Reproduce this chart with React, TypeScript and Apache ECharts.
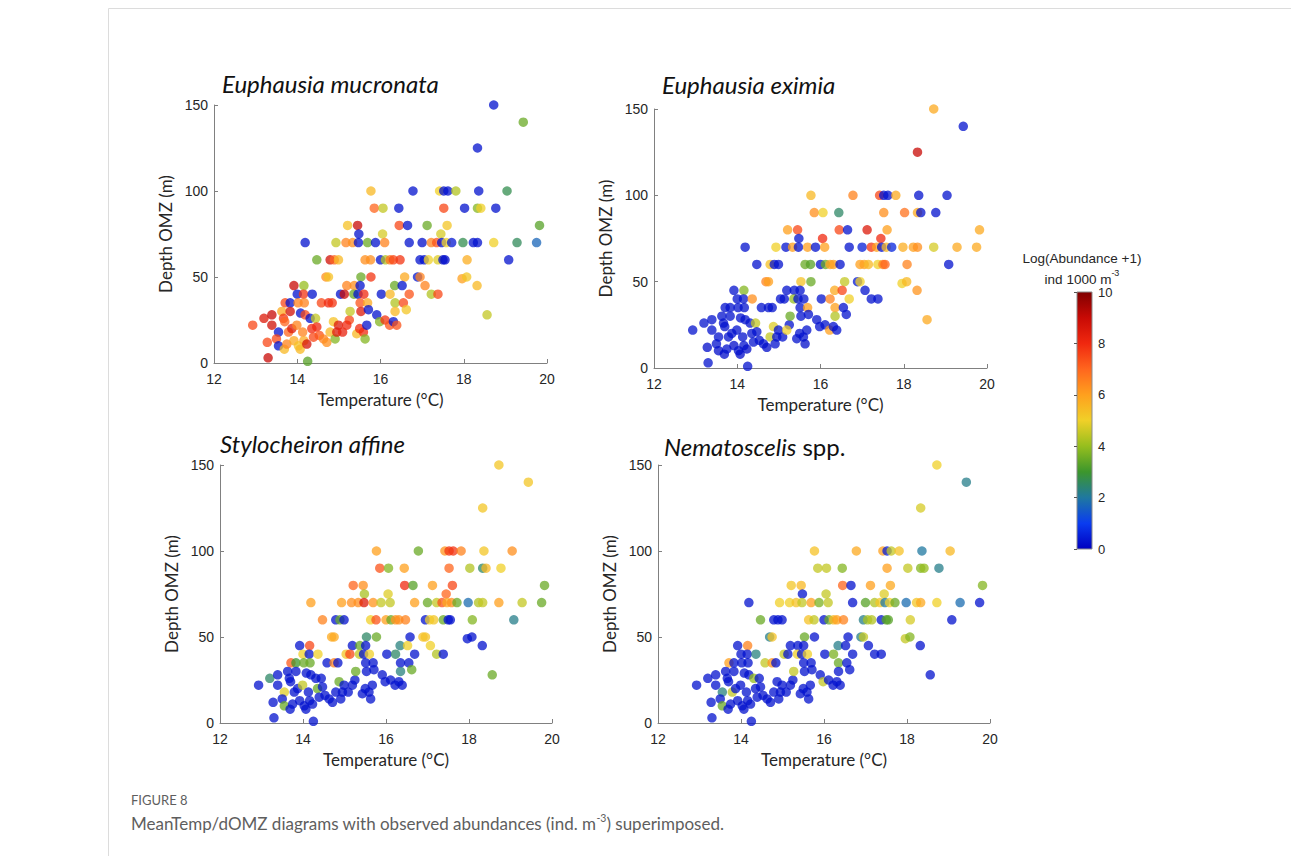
import React, { useEffect, useRef } from "react";
import * as echarts from "echarts";

// Station positions (shared by all four panels)
const stationTemp = [
  18.72, 19.43, 18.33,
  15.77, 16.78, 17.42, 17.52, 17.62, 17.81, 18.36, 19.04,
  15.85, 16.06, 16.44, 17.52, 18.02, 18.33, 18.41, 18.77,
  15.21, 15.45, 16.45, 16.65, 17.12, 17.6, 19.82,
  15.48, 16.05, 17.45,
  14.19, 14.93, 15.17, 15.33, 15.47, 15.69, 15.88, 16.1, 16.69, 17.0, 17.22, 17.35, 17.47, 17.58, 17.71, 17.98, 18.23, 18.33, 18.72, 19.28, 19.75,
  14.47, 14.79, 14.89, 14.99, 15.63, 15.76, 16.0, 16.12, 16.23, 16.31, 16.47, 16.95, 17.05, 17.15, 17.38, 17.5, 17.55, 18.08, 19.08,
  14.69, 14.75, 15.53, 15.77, 16.58, 16.89, 16.95, 17.96, 18.07,
  13.92, 14.16, 15.19, 15.37, 15.51, 16.34, 16.52, 17.07, 18.32,
  14.0, 14.15, 14.36, 15.04, 15.13, 15.36, 15.46, 15.6, 16.02, 16.23, 16.69, 17.22, 17.38,
  13.71, 13.83, 14.02, 14.17, 14.58, 14.75, 14.84, 15.51, 15.69, 16.35, 16.55,
  12.93, 13.2, 13.28, 13.3, 13.39, 13.39, 13.55, 13.5, 13.55, 13.63,
  13.67, 13.7, 13.69, 13.75, 13.83, 13.79, 13.87, 13.92, 13.99, 14.03,
  14.07, 14.08, 14.13, 14.16, 14.23, 14.19, 14.25, 14.31, 14.35, 14.39,
  14.44, 14.47, 14.53, 14.63, 14.71, 14.79, 14.87, 14.91, 14.95, 14.99,
  15.09, 15.25, 15.19, 15.27, 15.43, 15.5, 15.59, 15.53, 15.63, 15.67,
  15.71, 15.91, 15.98, 16.11, 16.22, 16.31, 16.39, 16.35, 16.62, 18.56,
];

const stationDepth = [
  150, 140, 125,
  100, 100, 100, 100, 100, 100, 100, 100,
  90, 90, 90, 90, 90, 90, 90, 90,
  80, 80, 80, 80, 80, 80, 80,
  75, 75, 75,
  70, 70, 70, 70, 70, 70, 70, 70, 70, 70, 70, 70, 70, 70, 70, 70, 70, 70, 70, 70, 70,
  60, 60, 60, 60, 60, 60, 60, 60, 60, 60, 60, 60, 60, 60, 60, 60, 60, 60, 60,
  50, 50, 50, 50, 50, 50, 50, 49, 50,
  45, 45, 45, 45, 45, 45, 45, 45, 45,
  40, 40, 40, 40, 40, 40, 40, 40, 40, 40, 40, 40, 40,
  35, 35, 35, 35, 35, 35, 35, 35, 35, 35, 35,
  22, 26, 12, 3, 28, 22, 18, 14, 10, 30,
  26, 24, 8, 11, 30, 18, 20, 13, 22, 10,
  8, 29, 18, 13, 11, 28, 1, 26, 20, 15,
  26, 21, 16, 14, 12, 18, 24, 14, 18, 22,
  18, 25, 22, 30, 17, 20, 18, 30, 14, 22,
  31, 28, 24, 25, 22, 24, 22, 30, 31, 28,
];

// Log(Abundance + 1) per station for each species
const mucronata = [
  0.3, 3.5, 0.3,
  5.5, 0.3, 5.0, 0.3, 0.3, 4.3, 0.3, 2.7,
  7.0, 4.5, 0.3, 7.5, 0.3, 3.8, 5.0, 0.3,
  5.3, 9.0, 7.5, 0.3, 3.5, 5.2, 3.3,
  0.3, 4.7, 4.7,
  0.3, 4.5, 6.5, 6.3, 0.3, 3.5, 0.3, 6.5, 0.3, 0.2, 6.5, 7.3, 0.3, 5.0, 0.4, 2.7, 0.3, 0.3, 5.0, 2.6, 1.7,
  3.5, 8.8, 7.0, 5.5, 6.3, 6.3, 0.3, 4.3, 6.8, 7.5, 7.8, 0.3, 0.3, 5.0, 4.8, 0.3, 0.2, 5.7, 0.3,
  6.3, 5.3, 3.5, 7.8, 5.8, 0.4, 6.5, 6.0, 5.2,
  9.0, 4.0, 6.5, 6.3, 0.3, 3.5, 0.3, 6.5, 5.5,
  0.3, 7.8, 0.3, 0.3, 9.0, 3.5, 0.3, 8.0, 0.3, 5.5, 7.3, 4.3, 7.5,
  7.5, 0.3, 6.5, 6.5, 7.5, 8.0, 7.8, 7.3, 5.8, 4.3, 7.5,
  7.5, 8.5, 7.5, 9.0, 9.0, 8.8, 0.3, 7.5, 0.3, 5.8,
  7.8, 7.0, 5.5, 6.5, 8.8, 7.0, 8.5, 5.8, 6.5, 5.3,
  5.5, 0.3, 6.5, 5.8, 8.7, 7.5, 3.3, 0.3, 8.0, 7.5,
  4.5, 8.0, 7.3, 6.5, 6.3, 5.5, 5.3, 3.8, 8.5, 8.5,
  8.2, 7.5, 8.0, 4.5, 5.5, 8.0, 8.0, 8.5, 3.8, 0.3,
  0.3, 0.3, 3.8, 7.8, 7.3, 0.3, 7.3, 5.5, 5.2, 4.5,
];

const eximia = [
  5.8, 0.3, 9.0,
  5.5, 6.5, 7.5, 0.3, 0.3, 5.8, 0.3, 0.3,
  6.3, 5.0, 2.5, 6.3, 6.8, 5.8, 0.3, 0.3,
  6.0, 7.5, 7.5, 0.3, 8.5, 6.0, 5.8,
  0.3, 8.0, 8.0,
  0.3, 5.0, 0.3, 6.0, 0.3, 6.0, 0.3, 6.0, 0.3, 0.5, 7.8, 6.0, 0.3, 5.5, 0.6, 5.7, 6.0, 6.3, 4.7, 5.8, 5.8,
  0.3, 5.3, 0.3, 0.3, 3.5, 3.3, 0.3, 3.5, 6.0, 6.0, 0.3, 6.0, 6.0, 5.5, 5.0, 6.5, 7.0, 6.5, 0.3,
  6.5, 6.0, 5.3, 3.5, 4.5, 0.4, 5.0, 5.0, 5.5,
  0.3, 3.8, 0.3, 0.3, 0.3, 5.8, 7.5, 0.3, 6.2,
  0.3, 0.3, 6.3, 0.3, 0.3, 4.0, 0.3, 0.3, 0.3, 6.5, 5.0, 0.3, 0.3,
  0.3, 0.3, 0.3, 0.3, 0.3, 0.3, 0.3, 0.3, 6.0, 6.0, 0.3,
  0.3, 0.3, 0.2, 0.3, 0.3, 0.3, 0.3, 0.3, 0.2, 0.3,
  0.3, 0.3, 0.2, 0.3, 0.3, 0.3, 0.3, 0.2, 0.3, 0.3,
  0.2, 0.3, 0.3, 0.3, 0.2, 0.3, 0.3, 0.3, 0.3, 0.3,
  4.5, 0.3, 0.3, 0.3, 0.2, 4.5, 4.8, 0.3, 0.3, 0.3,
  0.3, 0.3, 5.0, 3.5, 0.3, 0.3, 0.3, 0.3, 0.2, 0.3,
  0.3, 0.3, 0.3, 0.3, 6.0, 0.3, 0.3, 4.3, 0.3, 5.8,
];

const affine = [
  5.2, 5.2, 5.2,
  6.0, 3.5, 6.2, 7.8, 7.8, 6.5, 5.2, 6.3,
  7.3, 3.8, 6.0, 7.0, 4.3, 2.5, 5.5, 5.0,
  7.0, 6.3, 8.0, 3.3, 6.0, 7.5, 3.5,
  4.2, 4.8, 7.0,
  6.0, 6.0, 6.3, 6.3, 8.5, 6.2, 4.5, 4.5, 6.0, 3.5, 4.5, 7.3, 5.8, 6.3, 3.5, 1.8, 4.3, 4.5, 6.0, 4.5, 3.5,
  6.5, 0.3, 3.5, 0.3, 5.0, 7.3, 6.0, 3.5, 6.2, 6.3, 6.5, 0.3, 5.0, 5.2, 3.5, 0.3, 0.3, 3.8, 2.2,
  5.8, 5.8, 2.5, 3.5, 0.3, 5.3, 5.3, 0.3, 0.3,
  0.3, 7.5, 0.3, 3.5, 0.3, 2.3, 5.0, 5.0, 0.3,
  5.0, 0.3, 5.0, 5.2, 7.5, 4.5, 0.3, 5.0, 0.3, 2.5, 0.3, 4.3, 0.3,
  7.2, 3.0, 3.5, 3.5, 0.3, 6.5, 0.3, 0.3, 0.3, 0.3, 0.3,
  0.3, 2.5, 0.3, 0.3, 0.3, 0.3, 4.8, 0.3, 3.5, 0.3,
  0.3, 0.3, 0.3, 0.3, 0.3, 0.3, 0.3, 0.3, 4.5, 0.3,
  0.3, 0.3, 0.3, 0.3, 0.3, 0.3, 0.3, 0.3, 3.5, 0.3,
  0.3, 0.3, 0.3, 0.3, 0.3, 0.3, 3.5, 0.3, 0.3, 0.3,
  0.3, 0.3, 0.3, 3.5, 0.3, 0.3, 0.3, 0.3, 0.3, 0.3,
  0.3, 0.3, 0.3, 0.3, 0.3, 0.3, 0.3, 2.3, 3.5, 3.5,
];

const nematoscelis = [
  5.0, 2.2, 4.7,
  5.3, 5.8, 6.0, 0.5, 4.5, 5.3, 2.0, 5.5,
  4.5, 4.5, 3.8, 6.0, 4.5, 3.8, 4.0, 2.2,
  5.2, 5.5, 7.0, 0.3, 6.0, 5.8, 3.8,
  0.3, 4.5, 4.8,
  0.3, 5.0, 5.0, 5.3, 4.5, 6.0, 3.7, 4.5, 0.3, 3.3, 4.3, 5.2, 2.0, 5.0, 3.5, 1.8, 5.2, 5.8, 5.0, 1.8, 0.3,
  3.5, 0.3, 0.3, 0.3, 5.3, 4.5, 0.3, 3.5, 5.5, 6.0, 6.5, 2.2, 4.2, 4.3, 0.3, 3.3, 3.3, 4.7, 0.3,
  2.2, 5.3, 3.5, 0.3, 0.3, 2.2, 4.5, 4.5, 3.8,
  0.3, 6.5, 0.3, 0.3, 0.3, 2.2, 0.3, 0.3, 0.3,
  0.3, 0.3, 2.3, 4.5, 0.3, 5.0, 0.3, 5.0, 0.3, 3.7, 0.3, 0.3, 0.3,
  6.0, 0.3, 0.3, 0.3, 4.5, 6.2, 0.3, 0.3, 0.3, 3.5, 0.3,
  0.3, 0.3, 0.3, 0.3, 0.3, 0.3, 2.3, 0.3, 3.5, 0.3,
  0.3, 0.3, 0.3, 0.3, 0.3, 4.5, 0.3, 0.3, 0.3, 0.3,
  0.3, 0.3, 0.3, 0.3, 0.3, 0.3, 0.3, 4.0, 0.3, 0.3,
  0.3, 0.3, 0.3, 0.3, 0.3, 0.3, 0.3, 0.3, 0.3, 0.3,
  0.3, 0.3, 0.3, 4.5, 0.3, 0.3, 0.3, 0.3, 0.3, 0.3,
  0.3, 0.3, 4.5, 0.3, 0.3, 0.3, 0.3, 0.3, 0.3, 0.3,
];

const xTicks = { min: 12, max: 20, interval: 2 };
const yTicks = { min: 0, max: 150, interval: 50 };
const colorbarTicks = { min: 0, max: 10, interval: 2 };

const colormap = [
  "#0000c0", "#0a3cf0", "#1f78a0", "#3c962c", "#96be1e", "#f0d028",
  "#ffa01e", "#ff661e", "#f0280f", "#c80a05", "#800000",
];

const panelTitles = [
  "{i|Euphausia mucronata}",
  "{i|Euphausia eximia}",
  "{i|Stylocheiron affine}",
  "{i|Nematoscelis}{n| spp.}",
];

const speciesValues = [mucronata, eximia, affine, nematoscelis];

const grids = [
  { left: 214, top: 105, width: 333, height: 258 },
  { left: 654, top: 109, width: 333, height: 259 },
  { left: 220, top: 465, width: 332, height: 258 },
  { left: 658, top: 465, width: 332, height: 258 },
];
const titlePos = [
  [222, 83],
  [662, 84],
  [220, 443],
  [664, 446],
];

const TXT = "#262626";
const AX = "#808080";
const CAP = "#5e5e5e";

export default function App() {
  const ref = useRef<HTMLDivElement>(null);
  useEffect(() => {
    if (!ref.current) return;
    const chart = echarts.init(ref.current, undefined, { renderer: "svg" });

    const xAxes: any[] = grids.map((_, i) => ({
      type: "value",
      gridIndex: i,
      min: xTicks.min,
      max: xTicks.max,
      interval: xTicks.interval,
      name: "Temperature (°C)",
      nameLocation: "middle",
      nameGap: 28,
      nameTextStyle: { fontFamily: "Lato", fontSize: 17, color: TXT },
      axisLine: { show: true, lineStyle: { color: AX, width: 1 } },
      axisTick: { show: true, inside: true, length: 4, lineStyle: { color: AX } },
      axisLabel: { fontFamily: "Liberation Sans", fontSize: 14, color: TXT, margin: 9 },
      splitLine: { show: false },
    }));
    const yAxes: any[] = grids.map((_, i) => ({
      type: "value",
      gridIndex: i,
      min: yTicks.min,
      max: yTicks.max,
      interval: yTicks.interval,
      name: "Depth OMZ (m)",
      nameLocation: "middle",
      nameGap: 40,
      nameTextStyle: { fontFamily: "Lato", fontSize: 17, color: TXT },
      axisLine: { show: true, lineStyle: { color: AX, width: 1 } },
      axisTick: { show: true, inside: true, length: 4, lineStyle: { color: AX } },
      axisLabel: { fontFamily: "Liberation Sans", fontSize: 14, color: TXT, margin: 6 },
      splitLine: { show: false },
    }));
    // colorbar axis
    xAxes.push({ type: "value", gridIndex: 4, min: 0, max: 1, show: false });
    yAxes.push({
      type: "value",
      gridIndex: 4,
      position: "right",
      min: colorbarTicks.min,
      max: colorbarTicks.max,
      interval: colorbarTicks.interval,
      z: 10,
      axisLine: { show: false },
      axisTick: { show: true, inside: true, length: 3, lineStyle: { color: "#555" } },
      axisLabel: { fontFamily: "Liberation Sans", fontSize: 13, color: TXT, margin: 6 },
      splitLine: { show: false },
    });

    const stops = colormap.map((c, i) => ({ offset: i / (colormap.length - 1), color: c }));

    const series: any[] = speciesValues.map((vals, i) => ({
      type: "scatter",
      xAxisIndex: i,
      yAxisIndex: i,
      symbolSize: 9.5,
      itemStyle: { opacity: 0.75 },
      data: stationTemp.map((t, k) => [t, stationDepth[k], vals[k]]),
    }));
    series.push({
      type: "custom",
      xAxisIndex: 4,
      yAxisIndex: 4,
      data: [[0, 0]],
      renderItem: (_p: any, api: any) => {
        const a = api.coord([0, colorbarTicks.max]);
        const b = api.coord([1, colorbarTicks.min]);
        return {
          type: "rect",
          shape: { x: a[0], y: a[1], width: b[0] - a[0], height: b[1] - a[1] },
          style: {
            fill: new echarts.graphic.LinearGradient(0, 1, 0, 0, stops),
            stroke: "#8c8c8c",
            lineWidth: 1,
          },
        };
      },
    });

    const graphics: any[] = [
      { type: "line", silent: true, shape: { x1: 108.5, y1: 8.5, x2: 1291, y2: 8.5 }, style: { stroke: "#dcdcdc", lineWidth: 1 } },
      { type: "line", silent: true, shape: { x1: 108.5, y1: 8.5, x2: 108.5, y2: 856 }, style: { stroke: "#dcdcdc", lineWidth: 1 } },
    ];
    panelTitles.forEach((t, i) =>
      graphics.push({
        type: "text",
        x: titlePos[i][0],
        y: titlePos[i][1],
        style: {
          text: t,
          verticalAlign: "middle",
          align: "left",
          fill: "#111",
          rich: {
            i: { fontFamily: "Lato", fontStyle: "italic", fontSize: 24, fill: "#111" },
            n: { fontFamily: "Lato", fontSize: 24, fill: "#111" },
          },
        },
      })
    );
    graphics.push(
      {
        type: "text",
        x: 1082,
        y: 258,
        style: {
          text: "Log(Abundance +1)",
          align: "center",
          verticalAlign: "middle",
          fontFamily: "Liberation Sans",
          fontSize: 13.5,
          fill: TXT,
        },
      },
      {
        type: "text",
        x: 1082,
        y: 277,
        style: {
          text: "{a|ind 1000 m}{s|-3}",
          align: "center",
          verticalAlign: "middle",
          rich: {
            a: { fontFamily: "Liberation Sans", fontSize: 13.5, fill: TXT, lineHeight: 18, verticalAlign: "bottom" },
            s: { fontFamily: "Liberation Sans", fontSize: 9, fill: TXT, lineHeight: 18, verticalAlign: "top" },
          },
        },
      },
      {
        type: "text",
        x: 131,
        y: 800,
        style: {
          text: "FIGURE 8",
          verticalAlign: "middle",
          fontFamily: "Lato",
          fontSize: 13,
          fill: CAP,
        },
      },
      {
        type: "text",
        x: 131,
        y: 822,
        style: {
          text: "{a|MeanTemp/dOMZ diagrams with observed abundances (ind. m}{s|-3}{a|) superimposed.}",
          verticalAlign: "middle",
          rich: {
            a: { fontFamily: "Lato", fontSize: 17, fill: CAP, lineHeight: 20, verticalAlign: "bottom" },
            s: { fontFamily: "Lato", fontSize: 10.5, fill: CAP, lineHeight: 20, verticalAlign: "top" },
          },
        },
      }
    );

    chart.setOption({
      animation: false,
      backgroundColor: "#ffffff",
      grid: [
        ...grids.map((g) => ({ ...g, containLabel: false })),
        { left: 1077, top: 292, width: 15, height: 257, containLabel: false },
      ],
      xAxis: xAxes,
      yAxis: yAxes,
      visualMap: {
        type: "continuous",
        show: false,
        min: 0,
        max: 10,
        dimension: 2,
        seriesIndex: [0, 1, 2, 3],
        inRange: { color: colormap },
      },
      series,
      graphic: graphics,
    });
    return () => chart.dispose();
  }, []);
  return (
    <div
      ref={ref}
      style={{ position: "fixed", left: 0, top: 0, width: 1291, height: 856, background: "#fff" }}
    />
  );
}
